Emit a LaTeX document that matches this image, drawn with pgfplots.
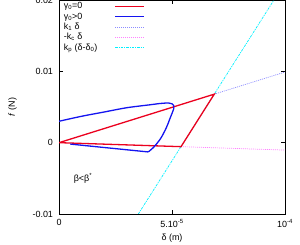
\documentclass[border=0pt]{standalone}
\usepackage{fontspec}
\setmainfont{Liberation Sans}
\usepackage{pgfplots}
\pgfplotsset{compat=1.18}
\definecolor{cK}{RGB}{140,140,255}
\definecolor{cC}{RGB}{255,130,255}
\definecolor{cP}{RGB}{0,240,255}
\definecolor{cR}{RGB}{235,0,30}
\definecolor{cB}{RGB}{20,20,240}
\begin{document}
\begin{tikzpicture}
\begin{axis}[
  scale only axis, width=226bp, height=214bp,
  at={(0,0)}, anchor=south west,
  xmin=0, xmax=1e-4, ymin=-0.01, ymax=0.02,
  xtick={0,5e-5,1e-4}, xticklabels={0,5.10\textsuperscript{-5},10\textsuperscript{-4}},
  ytick={-0.01,0,0.01,0.02}, yticklabels={-0.01,0,0.01,0.02},
  scaled x ticks=false, scaled y ticks=false,
  tick align=inside, major tick length=4bp, tick style={black, line width=0.6bp},
  axis line style={black, line width=0.9bp},
  ticklabel style={font=\fontsize{9}{10}\selectfont},
  yticklabel style={xshift=-2.5bp},
  xticklabel style={yshift=-2bp},
  xlabel={δ (m)}, ylabel={\textit{f} (N)},
  label style={font=\fontsize{9}{10}\selectfont},
  xlabel style={at={(axis description cs:0.5,-0.112)}, anchor=center},
  ylabel style={at={(axis description cs:-0.206,0.5)}, anchor=center},
  legend plot pos=right, legend cell align=left,
  legend image code/.code={\draw[#1] (0bp,0bp) -- (29bp,0bp);},
  legend style={at={(axis description cs:0.012,0.998)}, anchor=north west, draw=none, fill=none,
    font=\fontsize{9}{9}\selectfont, column sep=15bp, row sep=-1.6bp, inner sep=0pt},
]
\addplot[cP, line width=0.7bp, dash pattern=on 2.5bp off 1bp on 1bp off 1bp, forget plot] coordinates {(3.51e-5,-0.01) (9.51e-5,0.02)};
\addplot[cC, line width=0.7bp, dash pattern=on 1bp off 1bp, forget plot] coordinates {(5.4e-5,-0.00056) (1e-4,-0.00104)};
\addplot[cK, line width=0.7bp, dash pattern=on 1bp off 1bp, forget plot] coordinates {(6.87e-5,0.0068) (1e-4,0.0099)};
\addplot[cR, line width=1.3bp] coordinates {(0,0) (6.87e-5,0.0068) (5.4e-5,-0.00056) (0,0)};
\addlegendentry{γ\textsubscript{0}=0}
\addplot[cB, line width=1.3bp, smooth, tension=0.5] coordinates {
 (0,0.0030) (1e-5,0.0037) (2e-5,0.0043) (3e-5,0.0049) (4e-5,0.0053) (4.5e-5,0.0055)
 (4.85e-5,0.00556) (5.0e-5,0.00545) (5.08e-5,0.0052) (5.08e-5,0.0048) (5.0e-5,0.0041)
 (4.9e-5,0.0033) (4.75e-5,0.0021) (4.5e-5,0.0006) (4.2e-5,-0.0006) (3.95e-5,-0.0013)};
\addlegendentry{γ\textsubscript{0}>0}
\addplot[cB, line width=1.3bp, forget plot] coordinates {(3.95e-5,-0.0013) (0.5e-5,-0.0002)};
\addlegendimage{cK, line width=0.7bp, dash pattern=on 1bp off 1bp}
\addlegendentry{k\textsubscript{1} δ}
\addlegendimage{cC, line width=0.7bp, dash pattern=on 1bp off 1bp}
\addlegendentry{-k\textsubscript{c} δ}
\addlegendimage{cP, line width=0.7bp, dash pattern=on 2.5bp off 1bp on 1bp off 1bp}
\addlegendentry{k\textsubscript{p} (δ-δ\textsubscript{0})}
\node[anchor=west, font=\fontsize{9}{10}\selectfont] at (rel axis cs:0.05,0.165) {β<β\textsuperscript{*}};
\end{axis}
\pgfresetboundingbox
\path (-59bp,-31bp) rectangle (241bp,214bp);
\end{tikzpicture}
\end{document}
